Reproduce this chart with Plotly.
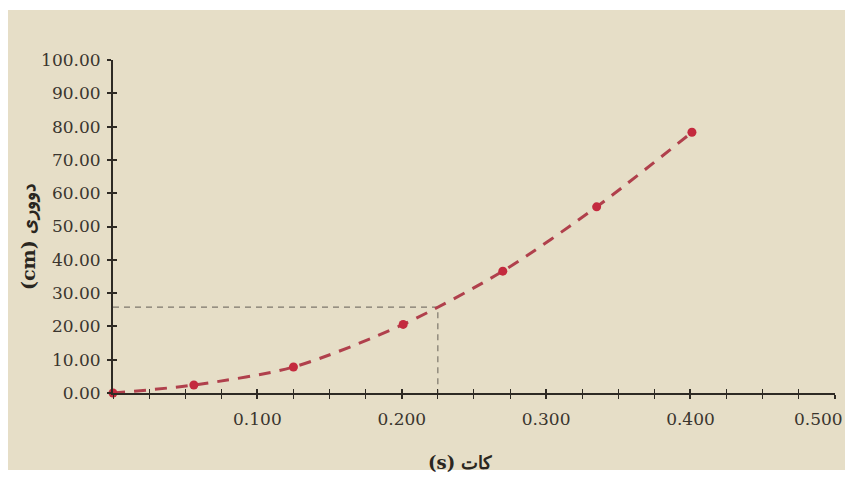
import plotly.graph_objects as go

# Data
time_s = [0.0, 0.056, 0.125, 0.201, 0.270, 0.335, 0.401]
distance_cm = [0.0, 2.4, 7.8, 20.6, 36.6, 55.9, 78.3]

guide_t = [0.0, 0.225, 0.225]
guide_d = [25.8, 25.8, 0.0]

x_tickvals = [0.1, 0.2, 0.3, 0.4, 0.5]
x_ticktext = ["0.100", "0.200", "0.300", "0.400", ""]
x_last_label = "0.500"
y_tickvals = [0, 10, 20, 30, 40, 50, 60, 70, 80, 90, 100]
y_ticktext = ["0.00", "10.00", "20.00", "30.00", "40.00", "50.00",
              "60.00", "70.00", "80.00", "90.00", "100.00"]

BG = "#E6DEC7"
AX = "#2e2a24"
TXT = "#3a352e"
FONT = "DejaVu Serif"

# page body adds an 8px offset, so the figure is laid out in (screen - 8) coords
L, T, PW, PH = 105, 52, 722, 333
W, H = 846, 469

fig = go.Figure()

fig.add_trace(go.Scatter(
    x=guide_t, y=guide_d, mode="lines",
    line=dict(color="#7d776c", width=1.2, dash="6px,5px"),
    hoverinfo="skip", showlegend=False, cliponaxis=False,
))

fig.add_trace(go.Scatter(
    x=time_s, y=distance_cm, mode="lines",
    line=dict(color="#B0404C", width=3, dash="12px,9px", shape="spline", smoothing=0.8),
    hoverinfo="skip", showlegend=False, cliponaxis=False,
))

fig.add_trace(go.Scatter(
    x=time_s, y=distance_cm, mode="markers",
    marker=dict(color="#C42A3E", size=9),
    showlegend=False, cliponaxis=False,
))

fig.add_trace(go.Scatter(
    x=[0], y=[0], xaxis="x2", yaxis="y2", mode="markers",
    marker=dict(opacity=0), hoverinfo="skip", showlegend=False,
))

common_x = dict(range=[0, 0.5001], showgrid=False, zeroline=False, fixedrange=True)
common_y = dict(range=[0, 100.01], showgrid=False, zeroline=False, fixedrange=True)

fig.update_layout(
    width=W, height=H,
    margin=dict(l=L, r=W - L - PW, t=T, b=H - T - PH),
    paper_bgcolor="white",
    plot_bgcolor=BG,
    xaxis=dict(
        **common_x,
        showline=True, linecolor=AX, linewidth=2,
        tickvals=x_tickvals, ticktext=x_ticktext,
        ticks="outside", ticklen=4, tickwidth=1.5, tickcolor=AX,
        minor=dict(dtick=0.025, tick0=0, ticks="outside", ticklen=4, tickwidth=1.2, tickcolor=AX),
        ticklabelstandoff=6,
        tickfont=dict(family=FONT, size=17, color=TXT),
    ),
    yaxis=dict(
        **common_y,
        showline=True, linecolor=AX, linewidth=2,
        tickvals=y_tickvals, ticktext=y_ticktext,
        ticks="outside", ticklen=4, tickwidth=1.5, tickcolor=AX,
        ticklabelstandoff=3,
        tickfont=dict(family=FONT, size=17, color=TXT),
    ),
    xaxis2=dict(
        **common_x, overlaying="x", anchor="y2",
        tickvals=x_tickvals, showticklabels=False,
        ticks="inside", ticklen=4, tickwidth=1.5, tickcolor=AX,
        minor=dict(dtick=0.025, tick0=0, ticks="inside", ticklen=4, tickwidth=1.2, tickcolor=AX),
        showline=False,
    ),
    yaxis2=dict(
        **common_y, overlaying="y", anchor="x2",
        tickvals=y_tickvals, showticklabels=False,
        ticks="inside", ticklen=4, tickwidth=1.5, tickcolor=AX,
        showline=False,
    ),
    shapes=[dict(
        type="rect", xref="paper", yref="paper",
        x0=(0 - L) / PW, x1=(837 - L) / PW,
        y0=(T + PH - 462) / PH, y1=(T + PH - 2) / PH,
        fillcolor=BG, line=dict(width=0), layer="below",
    )],
    annotations=[
        dict(
            text="<b>(cm) دووری</b>", textangle=-90,
            xref="paper", yref="paper",
            x=(20 - L) / PW, y=(T + PH - 229) / PH,
            showarrow=False, xanchor="center", yanchor="middle",
            font=dict(family=FONT, size=19, color="#2a2620"),
        ),
        dict(
            text="<b>(s) کات</b>",
            xref="paper", yref="paper",
            x=(452 - L) / PW, y=(T + PH - 454) / PH,
            showarrow=False, xanchor="center", yanchor="middle",
            font=dict(family=FONT, size=18, color="#2a2620"),
        ),
        dict(
            text=x_last_label,
            xref="paper", yref="paper",
            x=(837 - L) / PW, y=(T + PH - 411) / PH,
            showarrow=False, xanchor="right", yanchor="middle",
            font=dict(family=FONT, size=17, color=TXT),
        ),
    ],
)

fig.write_html("out.html")
